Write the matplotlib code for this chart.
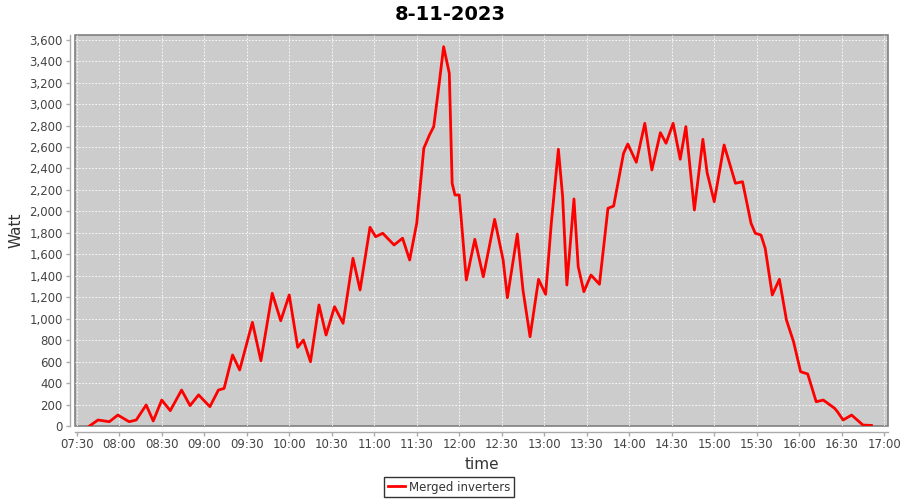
import datetime as dt
import matplotlib
matplotlib.use("Agg")
import matplotlib.pyplot as plt
import matplotlib.dates as mdates
from matplotlib.ticker import FuncFormatter, MultipleLocator

day = dt.date(2023, 11, 8)

times = [
    "07:39", "07:45", "07:53", "07:59", "08:07", "08:12", "08:19", "08:24",
    "08:30", "08:36", "08:44", "08:50", "08:56", "09:04", "09:10", "09:14",
    "09:20", "09:25", "09:34", "09:40", "09:48", "09:54", "10:00", "10:06",
    "10:10", "10:15", "10:21", "10:26", "10:32", "10:38", "10:45", "10:50",
    "10:57", "11:01", "11:06", "11:14", "11:20", "11:25", "11:30", "11:35",
    "11:39", "11:42", "11:45", "11:49", "11:53", "11:55", "11:57", "12:00",
    "12:05", "12:11", "12:17", "12:21", "12:25", "12:31", "12:34", "12:41",
    "12:45", "12:50", "12:56", "13:01", "13:05", "13:10", "13:13", "13:16",
    "13:21", "13:24", "13:28", "13:33", "13:39", "13:45", "13:49", "13:56",
    "13:59", "14:05", "14:11", "14:16", "14:22", "14:26", "14:31", "14:36",
    "14:40", "14:46", "14:52", "14:55", "15:00", "15:07", "15:15", "15:20",
    "15:26", "15:29", "15:33", "15:36", "15:41", "15:46", "15:51", "15:56",
    "16:01", "16:06", "16:12", "16:17", "16:25", "16:27", "16:31", "16:37",
    "16:45", "16:51",
]
watts = [
    0, 56, 40, 102, 40, 56, 196, 47,
    242, 143, 335, 190, 290, 180, 335, 350,
    662, 522, 966, 608, 1237, 981, 1221, 733,
    801, 599, 1128, 848, 1112, 957, 1563, 1268,
    1852, 1764, 1796, 1687, 1750, 1547, 1889, 2588,
    2712, 2790, 3101, 3535, 3287, 2262, 2153, 2153,
    1361, 1740, 1391, 1656, 1926, 1547, 1196, 1789,
    1268, 832, 1367, 1227, 1889, 2579, 2137, 1314,
    2116, 1485, 1252, 1407, 1321, 2029, 2050, 2541,
    2628, 2458, 2821, 2386, 2734, 2635, 2821, 2486,
    2790, 2013, 2672, 2361, 2091, 2619, 2262, 2277,
    1889, 1796, 1780, 1656, 1221, 1367, 988, 786,
    506, 485, 226, 242, 165, 133, 56, 102,
    9, 5,
]


def at(hm):
    h, m = hm.split(":")
    return dt.datetime.combine(day, dt.time(int(h), int(m)))


x = [at(t) for t in times]

fig = plt.figure(figsize=(9, 5), dpi=100)
ax = fig.add_axes([0.0837, 0.148, 0.9033, 0.782])

ax.set_facecolor("#cccccc")
ax.patch.set_edgecolor("#808080")
ax.patch.set_linewidth(1.2)

ax.plot(x, watts, color="#ff0000", lw=2, solid_joinstyle="round",
        label="Merged inverters")

ax.set_xlim(at("07:30") - dt.timedelta(minutes=1.0), at("17:00") + dt.timedelta(minutes=2.9))
ax.set_ylim(0, 3644)

ax.xaxis.set_major_locator(mdates.MinuteLocator(byminute=[0, 30]))
ax.xaxis.set_major_formatter(mdates.DateFormatter("%H:%M"))
ax.yaxis.set_major_locator(MultipleLocator(200))
ax.yaxis.set_major_formatter(FuncFormatter(lambda v, p: f"{int(v):,}"))

ax.grid(True, color="white", linestyle=(0, (2, 2)), linewidth=0.6)
ax.set_axisbelow(True)

for s in ["top", "right"]:
    ax.spines[s].set_visible(False)
for s in ["left", "bottom"]:
    ax.spines[s].set_position(("outward", 4))
    ax.spines[s].set_color("#aaaaaa")
    ax.spines[s].set_linewidth(1)

ax.tick_params(axis="both", colors="#aaaaaa", labelcolor="#444444",
               labelsize=8.5, length=3, width=1, direction="out", pad=2)

ax.set_xlabel("time", fontsize=11, color="#333333", labelpad=4)
ax.set_ylabel("Watt", fontsize=11, color="#333333", labelpad=4)
fig.suptitle("8-11-2023", fontsize=14, fontweight="bold", y=0.99)

leg = fig.legend(loc="center", bbox_to_anchor=(0.499, 0.026), fontsize=8.5,
                 frameon=True, fancybox=False, edgecolor="black",
                 handlelength=1.5, handletextpad=0.3, borderpad=0.3,
                 borderaxespad=0)
leg.get_frame().set_linewidth(1)
for t in leg.get_texts():
    t.set_color("#333333")

fig.savefig("out.png", dpi=100)
